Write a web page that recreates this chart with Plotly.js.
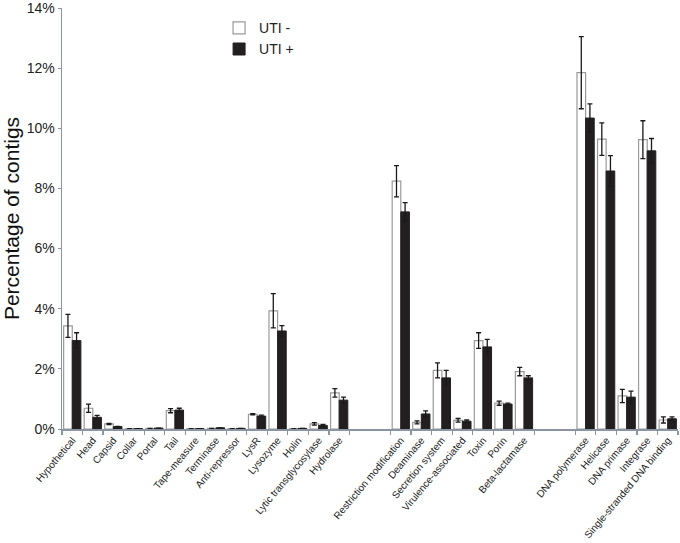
<!DOCTYPE html>
<html>
<head>
<meta charset="utf-8">
<script src="https://cdn.plot.ly/plotly-3.0.1.min.js"></script>
<style>html,body{margin:0;padding:0;background:#fff;}#chart{width:680px;height:543px;}</style>
</head>
<body>
<div id="chart"></div>
<script>
// Group 1: phage structure / lysis
const cats1 = ["Hypothetical","Head","Capsid","Collar","Portal","Tail","Tape-measure","Terminase","Anti-repressor","LysR","Lysozyme","Holin","Lytic transglycosylase","Hydrolase"];
const neg1 = [3.43,0.69,0.17,0.01,0.02,0.61,0.01,0.02,0.01,0.49,3.93,0.01,0.17,1.20];
const negErr1 = [0.38,0.14,0.02,0,0,0.07,0,0,0,0.02,0.57,0,0.04,0.14];
const pos1 = [2.94,0.39,0.08,0.01,0.03,0.63,0.01,0.04,0.02,0.43,3.26,0.02,0.12,0.96];
const posErr1 = [0.26,0.06,0.01,0,0,0.06,0,0,0,0.03,0.18,0,0.03,0.10];

// Group 2: virulence-related
const cats2 = ["Restriction modification","Deaminase","Secretion system","Virulence-associated","Toxin","Porin","Beta-lactamase"];
const neg2 = [8.24,0.22,1.95,0.29,2.94,0.86,1.91];
const negErr2 = [0.52,0.05,0.25,0.06,0.26,0.07,0.14];
const pos2 = [7.22,0.50,1.70,0.26,2.73,0.83,1.70];
const posErr2 = [0.31,0.10,0.25,0.04,0.25,0.03,0.07];

// Group 3: DNA metabolism
const cats3 = ["DNA polymerase","Helicase","DNA primase","Integrase","Single-stranded DNA binding"];
const neg3 = [11.85,9.64,1.10,9.62,0.30];
const negErr3 = [1.20,0.54,0.22,0.63,0.10];
const pos3 = [10.34,8.58,1.06,9.25,0.34];
const posErr3 = [0.47,0.51,0.20,0.41,0.06];

const seriesNames = ["UTI -","UTI +"];
const yTickVals = [0,2,4,6,8,10,12,14];
const yTickText = ["0%","2%","4%","6%","8%","10%","12%","14%"];

// lay groups along a numeric axis with a blank 2-slot gap between groups
const groups = [cats1, cats2, cats3];
const GAP = 2;
let xs = [], labels = [], bounds = [], start = 0;
groups.forEach((g) => {
  for (let i = 0; i < g.length; i++) {
    xs.push(start + i + 0.5);
    labels.push(g[i]);
  }
  for (let i = 0; i <= g.length; i++) bounds.push(start + i);
  start += g.length + GAP;
});
const xEnd = start - GAP;

const negAll = neg1.concat(neg2, neg3);
const negErrAll = negErr1.concat(negErr2, negErr3);
const posAll = pos1.concat(pos2, pos3);
const posErrAll = posErr1.concat(posErr2, posErr3);

const errStyle = {type:'data', visible:true, color:'#1a1a1a', thickness:1.3, width:2.5};

const traces = [
  {type:'bar', name:seriesNames[0], x:xs, y:negAll,
   marker:{color:'#ffffff', line:{color:'#9a9a9a', width:1.2}},
   error_y:Object.assign({array:negErrAll}, errStyle)},
  {type:'bar', name:seriesNames[1], x:xs, y:posAll,
   marker:{color:'#231f20', line:{color:'#231f20', width:1}},
   error_y:Object.assign({array:posErrAll}, errStyle)}
];

const axisColor = '#8b95a2';
const layout = {
  width:680, height:543,
  margin:{l:62, r:2, t:8, b:114},
  paper_bgcolor:'#ffffff', plot_bgcolor:'#ffffff',
  font:{family:'"Liberation Sans", Arial, sans-serif', color:'#222'},
  barmode:'group', bargap:0.16, bargroupgap:0,
  showlegend:true,
  legend:{x:0.255, y:0.99, xanchor:'left', yanchor:'top', bgcolor:'rgba(0,0,0,0)',
          font:{size:14, color:'#222'}, tracegroupgap:0},
  xaxis:{range:[0, xEnd], tickmode:'array', tickvals:xs, ticktext:labels,
         tickangle:-50, tickfont:{size:10, color:'#222'}, ticks:'', ticklen:0,
         ticklabeloverflow:'allow',
         showline:true, linecolor:axisColor, linewidth:1.5, showgrid:false, zeroline:false,
         minor:{tickmode:'array', tickvals:bounds, ticks:'outside', ticklen:4, tickcolor:axisColor, tickwidth:1.2, showgrid:false}},
  yaxis:{range:[0,14], tickmode:'array', tickvals:yTickVals, ticktext:yTickText,
         tickfont:{size:14, color:'#222'}, ticks:'outside', ticklen:3, tickcolor:axisColor,
         ticklabeloverflow:'allow',
         showline:true, linecolor:axisColor, linewidth:1.5, showgrid:false, zeroline:false,
         title:{text:'Percentage of contigs', font:{size:21, color:'#111'}, standoff:8}}
};

Plotly.newPlot('chart', traces, layout, {displayModeBar:false, staticPlot:true});
</script>
</body>
</html>
